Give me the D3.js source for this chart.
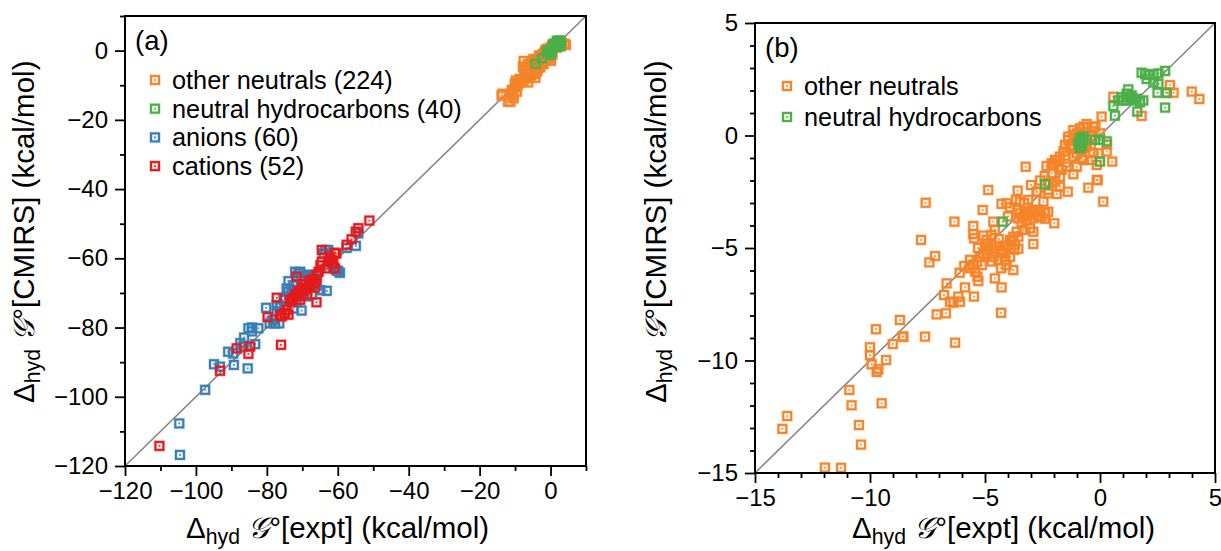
<!DOCTYPE html>
<html>
<head>
<meta charset="utf-8">
<script src="https://cdn.jsdelivr.net/npm/d3@7/dist/d3.min.js"></script>
<style>
  html, body { margin: 0; padding: 0; background: #fff; }
  svg { display: block; font-family: "Liberation Sans", Arial, Helvetica, sans-serif; }
</style>
</head>
<body>
<svg id="chart" width="1221" height="551"></svg>
<script>
// Hydration free energies: experiment (x) vs CMIRS (y), kcal/mol, as [expt, calc]
const otherNeutrals = [
  [-8.55,-8.94],[-7.61,-8.94],[-6.30,-9.21],[-10.0,-9.41],[-9.01,-9.27],[-10.0,-9.76],[-9.30,-9.98],
  [-9.93,-10.17],[-9.64,-10.39],[-9.71,-10.51],[-10.90,-11.31],[-10.80,-11.99],[-9.49,-11.90],
  [-13.60,-12.47],[-13.81,-13.04],[-10.48,-12.87],[-10.39,-13.74],[-11.96,-14.76],[-11.26,-14.77],
  [-8.70,-8.20],[-9.74,-8.61],[-8.58,-8.94],[-7.10,-7.95],[-6.70,-7.90],[-4.30,-7.88],[-6.67,-6.57],
  [-6.78,-7.09],[-6.52,-7.39],[-6.16,-7.16],[-6.38,-7.43],[-6.09,-7.39],[-5.87,-6.75],[-5.48,-7.16],
  [-4.57,-6.35],[-4.28,-6.75],[-5.65,-5.53],[-5.51,-5.76],[-5.14,-5.76],[-5.43,-6.05],[-5.33,-6.27],
  [-5.29,-6.47],[-5.65,-5.90],[-7.78,-4.64],[-7.17,-5.36],[-7.42,-5.64],[-7.58,-2.99],[-6.33,-3.83],
  [-5.51,-4.02],[-5.51,-4.38],[-5.47,-4.57],[-5.07,-4.45],[-5.10,-3.31],[-4.86,-2.42],[-3.58,-2.45],
  [-4.64,-3.83],[-4.57,-4.20],[-4.28,-3.04],[-4.06,-3.01],[-3.91,-3.19],[-3.65,-2.86],[-3.48,-2.94],
  [-3.12,-2.86],[-2.75,-2.49],[-2.46,-2.94],[-1.88,-2.60],[-2.23,-2.42],[-3.23,-1.39],[-2.32,-1.36],
  [-2.10,-1.24],[-1.96,-1.09],[-1.74,-0.94],[-1.16,-1.72],[-0.10,-1.98],[-0.51,-2.32],[0.14,-2.94],
  [0.53,-1.16],[-1.99,-3.90],[-2.90,-4.82],
  [-3.48,-3.46],[-3.27,-3.39],[-3.04,-3.39],[-2.83,-3.31],[-2.61,-3.39],[-2.39,-3.46],[-2.54,-3.61],
  [-2.90,-3.68],[-3.19,-3.76],[-3.41,-3.90],[-3.04,-4.13],[-2.90,-4.28],[-3.34,-4.20],[-3.62,-4.28],
  [-3.77,-4.50],[-3.55,-4.50],[-3.91,-4.64],[-3.70,-4.86],[-3.55,-5.03],[-3.74,-5.08],[-3.91,-5.39],
  [-4.06,-5.76],[-3.77,-5.98],[-4.13,-5.53],[-4.35,-5.08],[-4.49,-4.93],[-4.72,-4.79],[-4.86,-5.08],
  [-4.93,-5.30],[-4.64,-5.39],[-4.42,-5.53],[-4.20,-5.24],[-4.57,-5.16],[-5.07,-5.24],[-5.22,-5.39],
  [-5.36,-5.61],[-4.06,-4.93],[-3.84,-4.72],[-2.25,-3.39],[-2.68,-3.61],[-3.12,-3.53],[-3.34,-3.61],
  [-3.55,-3.68],[-4.72,-4.42],[-4.93,-4.64],
  [1.81,0.87],[0.58,1.72],[0.07,0.84],[-0.58,0.51],[-0.87,0.32],[-0.29,0.17],[0.00,0.10],[-1.16,0.02],
  [-1.38,-0.05],[-1.52,-0.42],[-1.30,-0.49],[-0.58,-0.49],[-0.29,-0.79],[-1.01,-0.79],[-1.16,-0.94],
  [-1.88,-1.09],[-2.03,-1.31],[-2.10,-1.68],[-1.74,-1.83],[-1.96,-2.05],[-1.74,-2.28],[-0.72,-1.09],
  [-0.36,-1.09],[-0.14,-1.31],[-0.14,-1.98],[-2.75,-2.52],[3.04,2.24],[2.90,1.90],[3.20,1.90],
  [3.99,1.95],[4.32,1.62],[-2.25,-2.57],[-1.16,-0.42],[-0.87,0.10],[-0.43,-0.05],[-0.72,-0.56],
  [-1.01,-1.39],[-1.45,-1.39],[-1.67,-1.53],[-0.07,-0.79],[0.29,-0.71],[-0.72,0.39],[-0.29,0.39],
  [-1.16,0.24],[-1.38,-0.20],[-1.59,-0.71],
  [-1.20,-0.60],[-0.90,-0.30],[-0.60,-0.20],[-0.40,-0.40],[-0.80,-1.00],[-1.50,-0.90],[-1.80,-1.40],
  [-2.40,-1.80],[-2.60,-2.00],[-2.20,-2.10],[-3.00,-2.20],[-0.20,0.40],[0.30,-0.40],[-1.00,0.10],
  [-3.30,-3.00],[-2.90,-3.50],[-2.40,-3.70],[-2.70,-3.30],[-3.60,-3.30],[-4.00,-3.60],[-4.40,-4.60],
  [-4.20,-4.90],[-3.90,-5.00],[-5.00,-4.90],[-5.30,-5.00],[-4.70,-5.60],[-4.30,-5.90],[-5.90,-5.80],
  [-6.10,-6.10],[-1.40,-2.50]
];

const hydrocarbons = [
  [1.81,2.79],[1.96,2.73],[2.10,2.69],[2.32,2.73],[2.54,2.76],[2.83,2.87],[2.03,2.51],[2.32,2.36],
  [2.54,2.29],[2.50,1.90],[2.90,1.90],[2.83,1.24],[1.23,2.05],[1.16,1.85],[1.30,1.70],[1.45,1.56],
  [1.01,1.56],[0.80,1.56],[1.74,1.48],[1.59,1.63],[0.58,1.31],[0.65,0.88],[1.62,1.06],[-0.87,-0.12],
  [-0.80,-0.34],[-0.87,-0.56],[-0.72,-0.19],[-0.22,-0.19],[0.00,-0.19],[0.29,-0.26],[0.00,-1.16],
  [-2.39,-2.17],[-4.23,-3.83],[1.38,1.78],[0.94,1.70],[1.88,1.56],[-0.72,-0.05],[-0.94,-0.34],
  [1.16,1.56],[-0.80,-0.49]
];

const anions = [
  [-54.2,-52.8],[-54.9,-56.4],[-57.5,-57.0],[-63.5,-57.6],[-59.4,-64.2],[-60.4,-63.5],[-63.1,-69.4],
  [-64.9,-69.2],[-70.6,-63.9],[-72.0,-63.9],[-68.2,-64.8],[-73.9,-66.6],[-72.5,-67.8],[-73.9,-69.6],
  [-74.9,-71.5],[-70.2,-75.1],[-72.5,-74.5],[-80.2,-74.3],[-77.2,-73.5],[-77.7,-78.8],[-76.5,-78.8],
  [-85.2,-80.2],[-84.2,-80.0],[-82.4,-80.2],[-86.4,-82.9],[-83.3,-84.8],[-86.6,-85.5],[-90.9,-87.0],
  [-89.5,-87.5],[-94.9,-90.6],[-93.2,-91.3],[-89.3,-90.8],[-85.4,-91.8],[-97.4,-98.0],[-104.7,-107.7],
  [-104.5,-116.8],
  [-74.4,-68.7],[-73.0,-69.2],[-71.6,-67.4],[-70.2,-66.4],[-69.2,-65.3],[-67.8,-64.8],[-66.8,-65.3],
  [-68.7,-71.0],[-67.3,-70.5],[-71.6,-72.7],[-76.3,-74.0],[-77.2,-75.3],[-78.2,-77.8],[-70.2,-69.9],
  [-64.0,-58.6],[-62.7,-57.6],[-59.9,-63.7],[-61.3,-62.5],[-71.1,-64.3],[-66.0,-67.6],[-75.3,-72.0],
  [-79.2,-78.8],[-87.5,-84.5],[-84.2,-81.1]
];

const cations = [
  [-51.1,-49.1],[-54.2,-51.3],[-54.9,-52.3],[-56.1,-54.5],[-57.5,-56.1],[-64.5,-57.6],[-60.8,-58.4],
  [-62.2,-59.7],[-62.7,-61.0],[-61.3,-61.5],[-64.5,-61.0],[-63.1,-62.9],[-60.8,-62.9],[-65.4,-63.9],
  [-66.0,-64.8],[-71.6,-65.3],[-77.2,-71.4],[-66.0,-72.7],[-74.4,-74.9],[-76.3,-76.4],[-79.8,-77.0],
  [-76.0,-85.0],[-88.5,-86.0],[-84.7,-85.5],[-85.2,-87.6],[-93.2,-92.5],[-110.3,-114.2],
  [-73.5,-72.0],[-72.5,-71.5],[-71.6,-71.0],[-70.6,-70.3],[-69.7,-69.5],[-68.7,-68.8],[-67.8,-68.0],
  [-66.8,-67.1],[-67.3,-66.1],[-68.2,-66.6],[-69.2,-67.5],[-70.1,-68.5],[-71.1,-69.5],[-72.0,-70.5],
  [-72.9,-72.5],[-66.0,-66.1],[-66.5,-68.5],[-68.7,-70.5],[-70.6,-72.0],[-74.9,-75.8],[-73.9,-76.3],
  [-75.8,-76.8],[-64.9,-62.0],[-61.8,-60.5],[-60.4,-58.6]
];

// Axis ranges and ticks
const domainA = [-120, 10];
const majorTicksA = [-120, -100, -80, -60, -40, -20, 0];
const minorTicksA = [-110, -90, -70, -50, -30, -10, 10];
const domainB = [-15, 5];
const majorTicksB = [-15, -10, -5, 0, 5];
const minorTicksB = [-14, -13, -12, -11, -9, -8, -7, -6, -4, -3, -2, -1, 1, 2, 3, 4];

const legendLabelsA = ["other neutrals (224)", "neutral hydrocarbons (40)", "anions (60)", "cations (52)"];
const legendLabelsB = ["other neutrals", "neutral hydrocarbons"];

const colors = {
  neutral: "#f5852a",
  hydro: "#4daf4a",
  anion: "#377eb8",
  cation: "#e41a1c"
};

const svg = d3.select("#chart");

// open square with a soft rim and a small centre dot
function marker(g, x, y, color) {
  const s = 8;
  g.append("rect")
    .attr("x", x - s / 2).attr("y", y - s / 2)
    .attr("width", s).attr("height", s)
    .attr("fill", "none").attr("stroke", color).attr("stroke-opacity", 0.3).attr("stroke-width", 3.4);
  g.append("rect")
    .attr("x", x - s / 2).attr("y", y - s / 2)
    .attr("width", s).attr("height", s)
    .attr("fill", "none").attr("stroke", color).attr("stroke-width", 2);
  g.append("rect")
    .attr("x", x - 1).attr("y", y - 1)
    .attr("width", 2).attr("height", 2)
    .attr("fill", color).attr("opacity", 0.8);
}

function axisTitle(sel, subject) {
  sel.append("tspan").text("Δ");
  sel.append("tspan").attr("font-size", "0.72em").attr("dy", 6).text("hyd");
  sel.append("tspan").attr("dy", -6).text(" ");
  sel.append("tspan").attr("font-family", "'DejaVu Serif', serif").attr("font-style", "italic").text("𝒢");
  sel.append("tspan").text("°" + subject + " (kcal/mol)");
}

function panel(opts) {
  const { left, right, top, bottom, domain, major, minor, series, legend, tag, legendPos, tagPos, xTitlePos, yTitlePos } = opts;
  const x = d3.scaleLinear().domain(domain).range([left, right]);
  const y = d3.scaleLinear().domain(domain).range([bottom, top]);
  const g = svg.append("g");

  // identity line
  g.append("line")
    .attr("x1", x(domain[0])).attr("y1", y(domain[0]))
    .attr("x2", x(domain[1])).attr("y2", y(domain[1]))
    .attr("stroke", "#878787").attr("stroke-width", 1.6);

  // points
  series.forEach(s => {
    const sg = g.append("g");
    s.data.forEach(d => marker(sg, x(d[0]), y(d[1]), s.color));
  });

  // axes
  const fmt = d3.format("d");
  const xMajor = g.append("g").attr("transform", `translate(0,${bottom})`)
    .call(d3.axisBottom(x).tickValues(major).tickSize(10).tickSizeOuter(0).tickPadding(6).tickFormat(fmt));
  const xMinor = g.append("g").attr("transform", `translate(0,${bottom})`)
    .call(d3.axisBottom(x).tickValues(minor).tickSize(5).tickSizeOuter(0).tickFormat(""));
  const yMajor = g.append("g").attr("transform", `translate(${left},0)`)
    .call(d3.axisLeft(y).tickValues(major).tickSize(10).tickSizeOuter(0).tickPadding(7).tickFormat(fmt));
  const yMinor = g.append("g").attr("transform", `translate(${left},0)`)
    .call(d3.axisLeft(y).tickValues(minor).tickSize(5).tickSizeOuter(0).tickFormat(""));
  [xMajor, xMinor, yMajor, yMinor].forEach(a => {
    a.select(".domain").remove();
    a.selectAll(".tick line").attr("stroke", "#000").attr("stroke-width", 1.8);
    a.selectAll(".tick text").attr("font-size", 24).attr("fill", "#000")
      .attr("font-family", "'Liberation Sans', Arial, sans-serif");
  });

  // frame
  g.append("rect")
    .attr("x", left).attr("y", top)
    .attr("width", right - left).attr("height", bottom - top)
    .attr("fill", "none").attr("stroke", "#000").attr("stroke-width", 2);

  // panel tag
  g.append("text").attr("x", tagPos[0]).attr("y", tagPos[1])
    .attr("font-size", 27.5).text(tag);

  // legend
  const lg = g.append("g");
  legend.forEach((item, i) => {
    const cy = legendPos[1] + i * legendPos[2];
    marker(lg, legendPos[0], cy, item.color);
    lg.append("text").attr("x", legendPos[0] + 17).attr("y", cy)
      .attr("dy", "0.35em").attr("font-size", 25.3).text(item.label);
  });

  // axis titles
  const xt = g.append("text")
    .attr("x", xTitlePos[0]).attr("y", xTitlePos[1])
    .attr("font-size", 29.5);
  axisTitle(xt, "[expt]");
  const yt = g.append("text")
    .attr("transform", `translate(${yTitlePos[0]},${yTitlePos[1]}) rotate(-90)`)
    .attr("font-size", 29.5);
  axisTitle(yt, "[CMIRS]");
}

panel({
  left: 125, right: 586, top: 16, bottom: 466,
  domain: domainA, major: majorTicksA, minor: minorTicksA,
  series: [
    { data: otherNeutrals, color: colors.neutral },
    { data: hydrocarbons, color: colors.hydro },
    { data: anions, color: colors.anion },
    { data: cations, color: colors.cation }
  ],
  legend: [
    { label: legendLabelsA[0], color: colors.neutral },
    { label: legendLabelsA[1], color: colors.hydro },
    { label: legendLabelsA[2], color: colors.anion },
    { label: legendLabelsA[3], color: colors.cation }
  ],
  tag: "(a)", tagPos: [135, 50], legendPos: [155, 80, 28.7],
  xTitlePos: [186, 538], yTitlePos: [34, 403]
});

panel({
  left: 755, right: 1215, top: 23, bottom: 473,
  domain: domainB, major: majorTicksB, minor: minorTicksB,
  series: [
    { data: otherNeutrals, color: colors.neutral },
    { data: hydrocarbons, color: colors.hydro }
  ],
  legend: [
    { label: legendLabelsB[0], color: colors.neutral },
    { label: legendLabelsB[1], color: colors.hydro }
  ],
  tag: "(b)", tagPos: [765, 57], legendPos: [787, 86, 31],
  xTitlePos: [852, 538], yTitlePos: [666, 403]
});
</script>
</body>
</html>
